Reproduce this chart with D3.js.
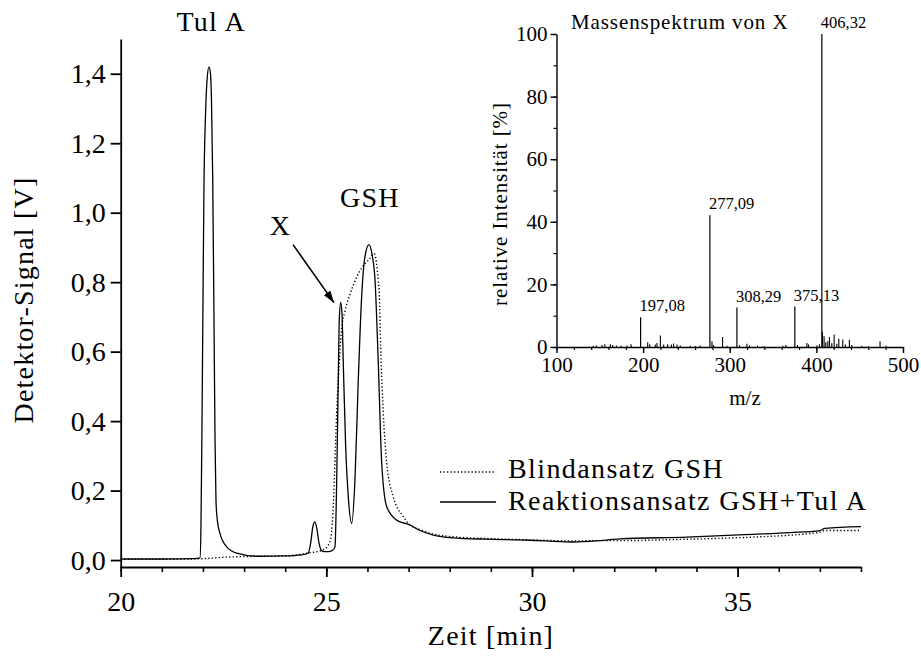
<!DOCTYPE html>
<html>
<head>
<meta charset="utf-8">
<script src="https://cdn.jsdelivr.net/npm/d3@7/dist/d3.min.js"></script>
<style>
  body { margin: 0; background: #fff; }
  svg { display: block; }
  text { font-family: "Liberation Serif", "DejaVu Serif", "Noto Serif", "FreeSerif", "Times New Roman", Times, serif; fill: #000; }
</style>
</head>
<body>
<svg id="chart" width="921" height="657"></svg>
<script>
// ---- Chromatogram: reaction mixture GSH + Tul A (solid line) ----
const reaktionTime = [20.0, 21.0, 21.8, 21.928, 21.952, 21.977, 22.001, 22.025, 22.062, 22.098, 22.147,
  22.183, 22.208, 22.237, 22.268, 22.293, 22.317, 22.354, 22.414, 22.577, 22.82, 23.307, 24.0, 24.4,
  24.56, 24.62, 24.67, 24.72, 24.77, 24.82, 24.88, 24.95, 25.05, 25.15, 25.21, 25.252, 25.29, 25.315,
  25.349, 25.38, 25.412, 25.47, 25.534, 25.616, 25.696, 25.777, 25.859, 25.94, 26.037, 26.11, 26.183,
  26.263, 26.346, 26.467, 26.71, 27.034, 27.277, 27.6, 28.08, 28.88, 29.708, 30.34, 31.0, 31.65, 32.14,
  33.77, 35.37, 36.27, 37.0, 37.12, 38.0];
const reaktionSignal = [0.003, 0.003, 0.004, 0.006, 0.10, 0.40, 0.75, 1.08, 1.28, 1.38, 1.42,
  1.40, 1.32, 1.10, 0.70, 0.35, 0.17, 0.11, 0.077, 0.038, 0.02, 0.011, 0.012, 0.015,
  0.02, 0.05, 0.095, 0.11, 0.09, 0.05, 0.028, 0.024, 0.024, 0.028, 0.038, 0.231, 0.519, 0.692,
  0.742, 0.711, 0.567, 0.327, 0.182, 0.106, 0.231, 0.519, 0.759, 0.874, 0.908, 0.88, 0.807,
  0.568, 0.28, 0.154, 0.115, 0.101, 0.085, 0.072, 0.064, 0.06, 0.058, 0.055, 0.052, 0.056, 0.061,
  0.066, 0.074, 0.079, 0.085, 0.091, 0.096];

// ---- Chromatogram: blank GSH (dotted line) ----
const blindTime = [20.0, 21.0, 22.0, 22.5, 23.0, 24.0, 24.6, 24.92, 25.09, 25.16, 25.25, 25.33, 25.37,
  25.45, 25.575, 25.74, 25.86, 25.98, 26.05, 26.16, 26.22, 26.26, 26.29, 26.32, 26.385, 26.467,
  26.628, 26.871, 27.034, 27.277, 27.6, 28.08, 28.9, 30.0, 31.0, 31.65, 32.14, 33.77, 35.37, 36.8,
  37.0, 37.12, 38.0];
const blindSignal = [0.002, 0.002, 0.004, 0.008, 0.01, 0.012, 0.021, 0.029, 0.053, 0.135, 0.42, 0.6, 0.665,
  0.715, 0.765, 0.815, 0.841, 0.858, 0.867, 0.882, 0.855, 0.807, 0.759, 0.615, 0.424, 0.28,
  0.182, 0.125, 0.101, 0.088, 0.075, 0.067, 0.062, 0.058, 0.055, 0.056, 0.056, 0.06, 0.066, 0.077,
  0.08, 0.085, 0.085];

const timeTicks = [20, 25, 30, 35];
const timeMinorTicks = d3.range(20, 38.01, 1);
const signalTicks = [0, 0.2, 0.4, 0.6, 0.8, 1.0, 1.2, 1.4];

// ---- Mass spectrum of X ----
const msMz = [142.3, 146, 152.6, 155.7, 162.2, 164.9, 169.2, 174.5, 181.5, 186.1, 205.3, 207.6, 214.1, 216,
  219.9, 223.7, 228.3, 232.6, 235.2, 239.1, 242.9, 254.5, 260.2, 266, 279.5, 281.3, 291.7, 296.7,
  311.3, 319.8, 322.8, 332, 339.8, 361.3, 364.7, 378.2, 389, 390.9, 400.5, 403.5, 407, 408.9,
  410.9, 413.2, 415.1, 417.8, 420.5, 423.6, 425.9, 430.5, 433.5, 438.1, 440.9, 452.4, 460, 473.5, 480.4];
const msIntensity = [0.4, 0.5, 0.6, 0.9, 0.9, 0.6, 0.5, 0.4, 0.5, 0.9, 1.5, 0.9, 0.8, 1.3,
  3.7, 0.8, 0.9, 0.8, 1.1, 0.8, 0.5, 0.4, 0.3, 0.5, 1.8, 0.6, 3.2, 0.4,
  0.6, 1.0, 0.5, 0.4, 0.3, 0.4, 0.6, 0.6, 1.3, 0.8, 0.5, 0.9, 4.8, 3.4,
  1.5, 1.8, 3.2, 1.2, 4.0, 1.0, 2.6, 2.4, 0.8, 2.3, 0.6, 0.4, 0.3, 1.8, 0.4];
// labelled peaks
const peakMz = [197.08, 277.09, 308.29, 375.13, 406.32];
const peakIntensity = [9.5, 42.1, 12.6, 12.9, 100];
const msXTicks = [100, 200, 300, 400, 500];
const msXMinor = d3.range(100, 500.1, 20);
const msYTicks = [0, 20, 40, 60, 80, 100];
const msYMinor = d3.range(0, 100.1, 10);

const SERIF = '"Liberation Serif", "DejaVu Serif", "Noto Serif", "FreeSerif", "Times New Roman", Times, serif';
const comma = v => v.toFixed(1).replace('.', ',');
const comma2 = v => v.toFixed(2).replace('.', ',');

const svg = d3.select('#chart');

// ---------- main chromatogram ----------
const x = d3.scaleLinear().domain([20, 38]).range([120.7, 861]);
const y = d3.scaleLinear().domain([-0.02, 1.5]).range([567, 39]);

const main = svg.append('g');

// x axis: minor ticks, then major ticks with labels
main.append('g').attr('transform', 'translate(0,567)')
  .call(d3.axisBottom(x).tickValues(timeMinorTicks).tickSize(5).tickFormat(''))
  .call(g => g.select('.domain').remove())
  .call(g => g.selectAll('line').attr('stroke-width', 1.6));
const xAxis = main.append('g').attr('transform', 'translate(0,567)')
  .call(d3.axisBottom(x).tickValues(timeTicks).tickSize(10).tickSizeOuter(0).tickFormat(d3.format('d')));
xAxis.attr('font-family', SERIF);
xAxis.select('.domain').attr('stroke-width', 1.8);
xAxis.selectAll('line').attr('stroke-width', 1.8);
xAxis.selectAll('text').attr('y', 44).attr('dy', 0).attr('font-size', 28);

const yAxis = main.append('g').attr('transform', 'translate(120.7,0)')
  .call(d3.axisLeft(y).tickValues(signalTicks).tickSize(10).tickSizeOuter(0).tickPadding(5).tickFormat(comma));
yAxis.attr('font-family', SERIF);
yAxis.select('.domain').attr('stroke-width', 1.8);
yAxis.selectAll('line').attr('stroke-width', 1.8);
yAxis.selectAll('text').attr('font-size', 28);

const line = d3.line().x(d => x(d[0])).y(d => y(d[1])).curve(d3.curveMonotoneX);

main.append('path')
  .datum(d3.zip(blindTime, blindSignal))
  .attr('d', line).attr('fill', 'none').attr('stroke', '#000')
  .attr('stroke-width', 1.4).attr('stroke-dasharray', '1.3,2.2');
main.append('path')
  .datum(d3.zip(reaktionTime, reaktionSignal))
  .attr('d', line).attr('fill', 'none').attr('stroke', '#000')
  .attr('stroke-width', 1.3);

// axis titles
main.append('text').attr('x', 491).attr('y', 645).attr('text-anchor', 'middle')
  .attr('font-size', 28).attr('letter-spacing', 1.2).text('Zeit [min]');
main.append('text').attr('transform', 'translate(33,300) rotate(-90)').attr('text-anchor', 'middle')
  .attr('font-size', 28).attr('letter-spacing', 1.2).text('Detektor-Signal [V]');

// peak annotations
main.append('text').attr('x', x(22.2)).attr('y', y(1.522)).attr('text-anchor', 'middle')
  .attr('font-size', 28).attr('letter-spacing', 1.2).text('Tul A');
main.append('text').attr('x', x(26.06)).attr('y', y(1.015)).attr('text-anchor', 'middle')
  .attr('font-size', 28).attr('letter-spacing', 1.2).text('GSH');
main.append('text').attr('x', x(23.87)).attr('y', y(0.937)).attr('text-anchor', 'middle')
  .attr('font-size', 28).text('X');

svg.append('defs').append('marker')
  .attr('id', 'arrowhead').attr('viewBox', '0 0 12 8').attr('refX', 12).attr('refY', 4)
  .attr('markerWidth', 12).attr('markerHeight', 8).attr('markerUnits', 'userSpaceOnUse')
  .attr('orient', 'auto')
  .append('path').attr('d', 'M0,0 L12,4 L0,8 Z').attr('fill', '#000');
main.append('line')
  .attr('x1', x(24.19)).attr('y1', y(0.908)).attr('x2', x(25.186)).attr('y2', y(0.741))
  .attr('stroke', '#000').attr('stroke-width', 1.6).attr('marker-end', 'url(#arrowhead)');

// legend
const legend = main.append('g');
legend.append('line').attr('x1', 440).attr('x2', 496).attr('y1', 472).attr('y2', 472)
  .attr('stroke', '#000').attr('stroke-width', 1.3).attr('stroke-dasharray', '1.3,2.2');
legend.append('line').attr('x1', 440).attr('x2', 496).attr('y1', 502).attr('y2', 502)
  .attr('stroke', '#000').attr('stroke-width', 1.3);
legend.append('text').attr('x', 508).attr('y', 478).attr('font-size', 28).attr('letter-spacing', 1.4)
  .text('Blindansatz GSH');
legend.append('text').attr('x', 508).attr('y', 510).attr('font-size', 28).attr('letter-spacing', 1.4)
  .text('Reaktionsansatz GSH+Tul A');

// ---------- inset: mass spectrum ----------
const mx = d3.scaleLinear().domain([100, 500]).range([556.5, 903]);
const my = d3.scaleLinear().domain([0, 100]).range([347, 34]);
const inset = svg.append('g');

inset.append('g').attr('transform', 'translate(0,347)')
  .call(d3.axisBottom(mx).tickValues(msXMinor).tickSize(3).tickFormat(''))
  .call(g => g.select('.domain').remove())
  .call(g => g.selectAll('line').attr('stroke-width', 1.2));
const mxAxis = inset.append('g').attr('transform', 'translate(0,347)')
  .call(d3.axisBottom(mx).tickValues(msXTicks).tickSize(6).tickSizeOuter(0).tickFormat(d3.format('d')));
mxAxis.attr('font-family', SERIF);
mxAxis.select('.domain').attr('stroke-width', 1.4);
mxAxis.selectAll('line').attr('stroke-width', 1.4);
mxAxis.selectAll('text').attr('y', 25).attr('dy', 0).attr('font-size', 21);

inset.append('g').attr('transform', 'translate(556.5,0)')
  .call(d3.axisLeft(my).tickValues(msYMinor).tickSize(3).tickFormat(''))
  .call(g => g.select('.domain').remove())
  .call(g => g.selectAll('line').attr('stroke-width', 1.2));
const myAxis = inset.append('g').attr('transform', 'translate(556.5,0)')
  .call(d3.axisLeft(my).tickValues(msYTicks).tickSize(6).tickSizeOuter(0).tickPadding(3).tickFormat(d3.format('d')));
myAxis.attr('font-family', SERIF);
myAxis.select('.domain').attr('stroke-width', 1.4);
myAxis.selectAll('line').attr('stroke-width', 1.4);
myAxis.selectAll('text').attr('font-size', 21);

// spectrum bars
inset.append('g').selectAll('line')
  .data(d3.zip(msMz, msIntensity))
  .join('line')
  .attr('x1', d => mx(d[0])).attr('x2', d => mx(d[0]))
  .attr('y1', my(0)).attr('y2', d => my(d[1]))
  .attr('stroke', '#000').attr('stroke-width', 1.1);
inset.append('g').selectAll('line')
  .data(d3.zip(peakMz, peakIntensity))
  .join('line')
  .attr('x1', d => mx(d[0])).attr('x2', d => mx(d[0]))
  .attr('y1', my(0)).attr('y2', d => my(d[1]))
  .attr('stroke', '#000').attr('stroke-width', 1.2);
inset.append('g').selectAll('text')
  .data(peakMz)
  .join('text')
  .attr('x', d => mx(d) - 1)
  .attr('y', (d, i) => my(peakIntensity[i]) - 6)
  .attr('font-size', 16.5)
  .text(d => comma2(d));

inset.append('text').attr('x', 571).attr('y', 29).attr('font-size', 21).attr('letter-spacing', 0.9)
  .text('Massenspektrum von X');
inset.append('text').attr('x', 745).attr('y', 405).attr('text-anchor', 'middle')
  .attr('font-size', 21).text('m/z');
inset.append('text').attr('transform', 'translate(507,204) rotate(-90)').attr('text-anchor', 'middle')
  .attr('font-size', 21).attr('letter-spacing', 0.9).text('relative Intensität [%]');
</script>
</body>
</html>
